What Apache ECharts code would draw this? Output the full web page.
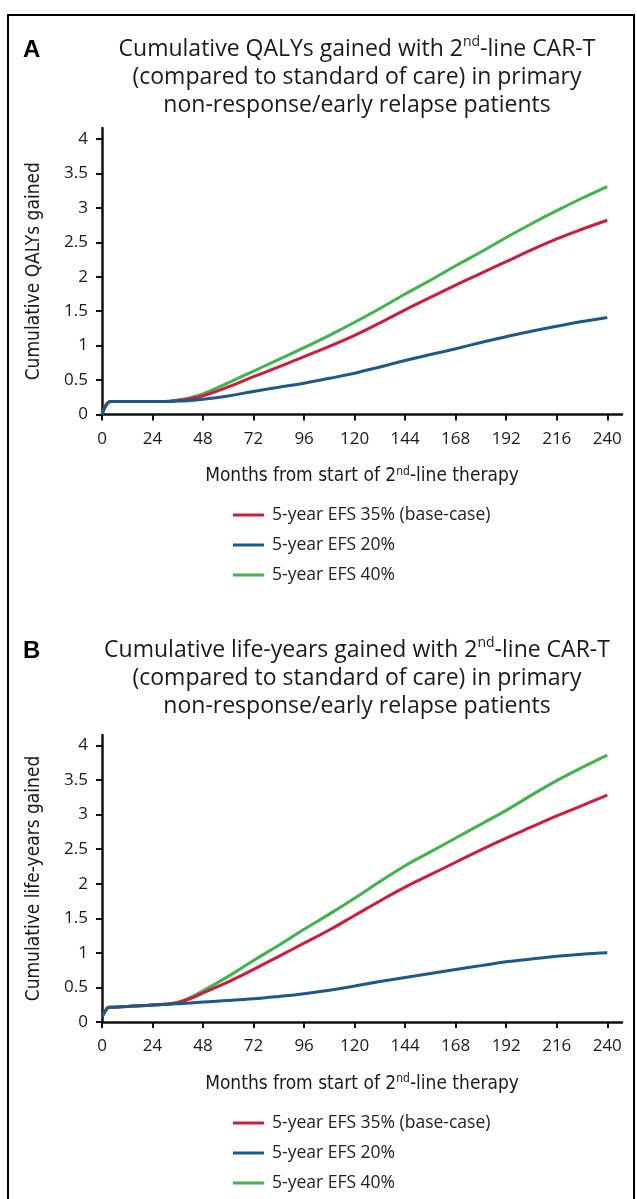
<!DOCTYPE html>
<html><head><meta charset="utf-8">
<script src="https://cdn.jsdelivr.net/npm/echarts@6/dist/echarts.min.js"></script>
<style>html,body{margin:0;padding:0;background:#fff}#c{width:637px;height:1199px}</style>
</head><body><div id="c"></div>
<script>
// ---- data ----
const months = [0,1,2,3,4,6,12,18,24,30,36,42,48,60,72,84,96,108,120,132,144,156,168,180,192,204,216,228,240];
const xTicks = [0,24,48,72,96,120,144,168,192,216,240];
const yTicks = [0,0.5,1,1.5,2,2.5,3,3.5,4];
const seriesNames = ['5-year EFS 35% (base-case)','5-year EFS 20%','5-year EFS 40%'];

// Panel A: cumulative QALYs gained
const qalyEFS35 = [0,0.08,0.14,0.175,0.19,0.19,0.19,0.19,0.19,0.19,0.205,0.23,0.27,0.40,0.55,0.69,0.84,0.99,1.15,1.33,1.52,1.70,1.88,2.05,2.22,2.39,2.55,2.69,2.82];
const qalyEFS20 = [0,0.08,0.14,0.175,0.19,0.19,0.19,0.19,0.19,0.19,0.195,0.205,0.22,0.27,0.335,0.395,0.455,0.525,0.60,0.69,0.785,0.87,0.955,1.045,1.13,1.21,1.28,1.35,1.41];
const qalyEFS40 = [0,0.08,0.14,0.175,0.19,0.19,0.19,0.19,0.19,0.19,0.21,0.245,0.30,0.46,0.63,0.80,0.97,1.15,1.34,1.54,1.75,1.95,2.16,2.36,2.57,2.77,2.96,3.14,3.31];

// Panel B: cumulative life-years gained
const lyEFS35 = [0.08,0.13,0.18,0.21,0.212,0.215,0.225,0.235,0.245,0.255,0.28,0.34,0.42,0.58,0.76,0.95,1.14,1.33,1.54,1.75,1.95,2.13,2.31,2.49,2.66,2.82,2.98,3.13,3.28];
const lyEFS20 = [0.08,0.13,0.18,0.21,0.212,0.215,0.225,0.235,0.245,0.255,0.265,0.275,0.29,0.31,0.335,0.37,0.41,0.46,0.52,0.585,0.645,0.70,0.76,0.815,0.87,0.91,0.95,0.98,1.00];
const lyEFS40 = [0.08,0.13,0.18,0.21,0.212,0.215,0.225,0.235,0.245,0.255,0.285,0.355,0.45,0.66,0.89,1.11,1.34,1.56,1.79,2.03,2.26,2.46,2.66,2.86,3.06,3.28,3.49,3.68,3.86];

const colors = {red:'#d01c3c', blue:'#1b5a88', green:'#3db54a'};
// ---- chart ----
const chart = echarts.init(document.getElementById('c'), null, {renderer:'canvas'});
const tickFont = '"Open Sans", "Noto Sans", sans-serif';
const condFont = '"Liberation Sans Narrow", "DejaVu Sans Condensed", "Roboto Condensed", Lato, sans-serif';
const titleFont = '"Open Sans", "Noto Sans", sans-serif';

function pairs(arr){ return months.map((m,i)=>[m, arr[i]]); }
function mkX(gi){
  return {
    type:'value', gridIndex:gi, min:0, max:247,
    axisLine:{show:true, onZero:false, lineStyle:{color:'#111', width:2.5}},
    axisTick:{show:true, length:6, customValues:xTicks, lineStyle:{color:'#111', width:2}},
    axisLabel:{customValues:xTicks, fontSize:17, color:'#1a1a1a', fontFamily:tickFont, margin:16},
    splitLine:{show:false},
    name:'{t|Months from start of 2}{s|nd}{t|-line therapy}',
    nameLocation:'middle', nameGap:51,
    nameTextStyle:{rich:{
      t:{fontSize:19, fontFamily:condFont, color:'#1a1a1a', lineHeight:22},
      s:{fontSize:12, fontFamily:condFont, color:'#1a1a1a', lineHeight:14, verticalAlign:'top'}
    }}
  };
}
function mkY(gi, name, max){
  return {
    type:'value', gridIndex:gi, min:0, max:max,
    axisLine:{show:true, lineStyle:{color:'#111', width:2.5}},
    axisTick:{show:true, length:6, customValues:yTicks, lineStyle:{color:'#111', width:2}},
    axisLabel:{customValues:yTicks, fontSize:17, color:'#1a1a1a', fontFamily:tickFont, margin:14},
    splitLine:{show:false},
    name:name, nameLocation:'middle', nameGap:58,
    nameTextStyle:{fontSize:19, fontFamily:condFont, color:'#1a1a1a'}
  };
}
function mkSeries(gi, name, arr, color, z){
  return {type:'line', name:name, xAxisIndex:gi, yAxisIndex:gi, data:pairs(arr),
    symbol:'none', smooth:0.4, z:z,
    lineStyle:{color:color, width:3}, itemStyle:{color:color},
    emphasis:{disabled:true}};
}
function mkLegend(top){
  return {data:seriesNames, orient:'vertical', left:228, top:top, icon:'rect',
    itemWidth:31, itemHeight:3, itemGap:12, selectedMode:false,
    textStyle:{fontSize:17.5, fontFamily:titleFont, color:'#222', lineHeight:18, padding:[0,0,0,3]}};
}
function titleText(first){
  return '{t|' + first + ' with 2}{s|nd}{t|-line CAR-T}\n{t|(compared to standard of care) in primary}\n{t|non-response/early relapse patients}';
}
const titleRich = {
  t:{fontSize:23, fontFamily:titleFont, fill:'#1a1a1a', lineHeight:28},
  s:{fontSize:14, fontFamily:titleFont, fill:'#1a1a1a', lineHeight:18, verticalAlign:'top'}
};

chart.setOption({
  animation:false,
  backgroundColor:'#fff',
  grid:[
    {left:102, top:128, width:520, height:286.5},
    {left:102, top:735, width:520, height:287}
  ],
  xAxis:[mkX(0), mkX(1)],
  yAxis:[mkY(0,'Cumulative QALYs gained',4.16), mkY(1,'Cumulative life-years gained',4.15)],
  legend:[mkLegend(501), mkLegend(1109)],
  series:[
    mkSeries(0, seriesNames[2], qalyEFS40, colors.green, 2),
    mkSeries(0, seriesNames[0], qalyEFS35, colors.red, 3),
    mkSeries(0, seriesNames[1], qalyEFS20, colors.blue, 4),
    mkSeries(1, seriesNames[2], lyEFS40, colors.green, 2),
    mkSeries(1, seriesNames[0], lyEFS35, colors.red, 3),
    mkSeries(1, seriesNames[1], lyEFS20, colors.blue, 4)
  ],
  graphic:[
    {type:'rect', shape:{x:8, y:15, width:626, height:1300}, style:{fill:'none', stroke:'#000', lineWidth:2}, silent:true},
    {type:'text', x:23, y:50, style:{text:'A', fontSize:24, fontWeight:'bold', fontFamily:'"Liberation Sans", Arial, sans-serif', fill:'#000', verticalAlign:'middle'}},
    {type:'text', x:357, y:35, style:{text:titleText('Cumulative QALYs gained'), rich:titleRich, align:'center', verticalAlign:'top'}},
    {type:'text', x:23, y:651, style:{text:'B', fontSize:24, fontWeight:'bold', fontFamily:'"Liberation Sans", Arial, sans-serif', fill:'#000', verticalAlign:'middle'}},
    {type:'text', x:357, y:636, style:{text:titleText('Cumulative life-years gained'), rich:titleRich, align:'center', verticalAlign:'top'}}
  ]
});
</script></body></html>
